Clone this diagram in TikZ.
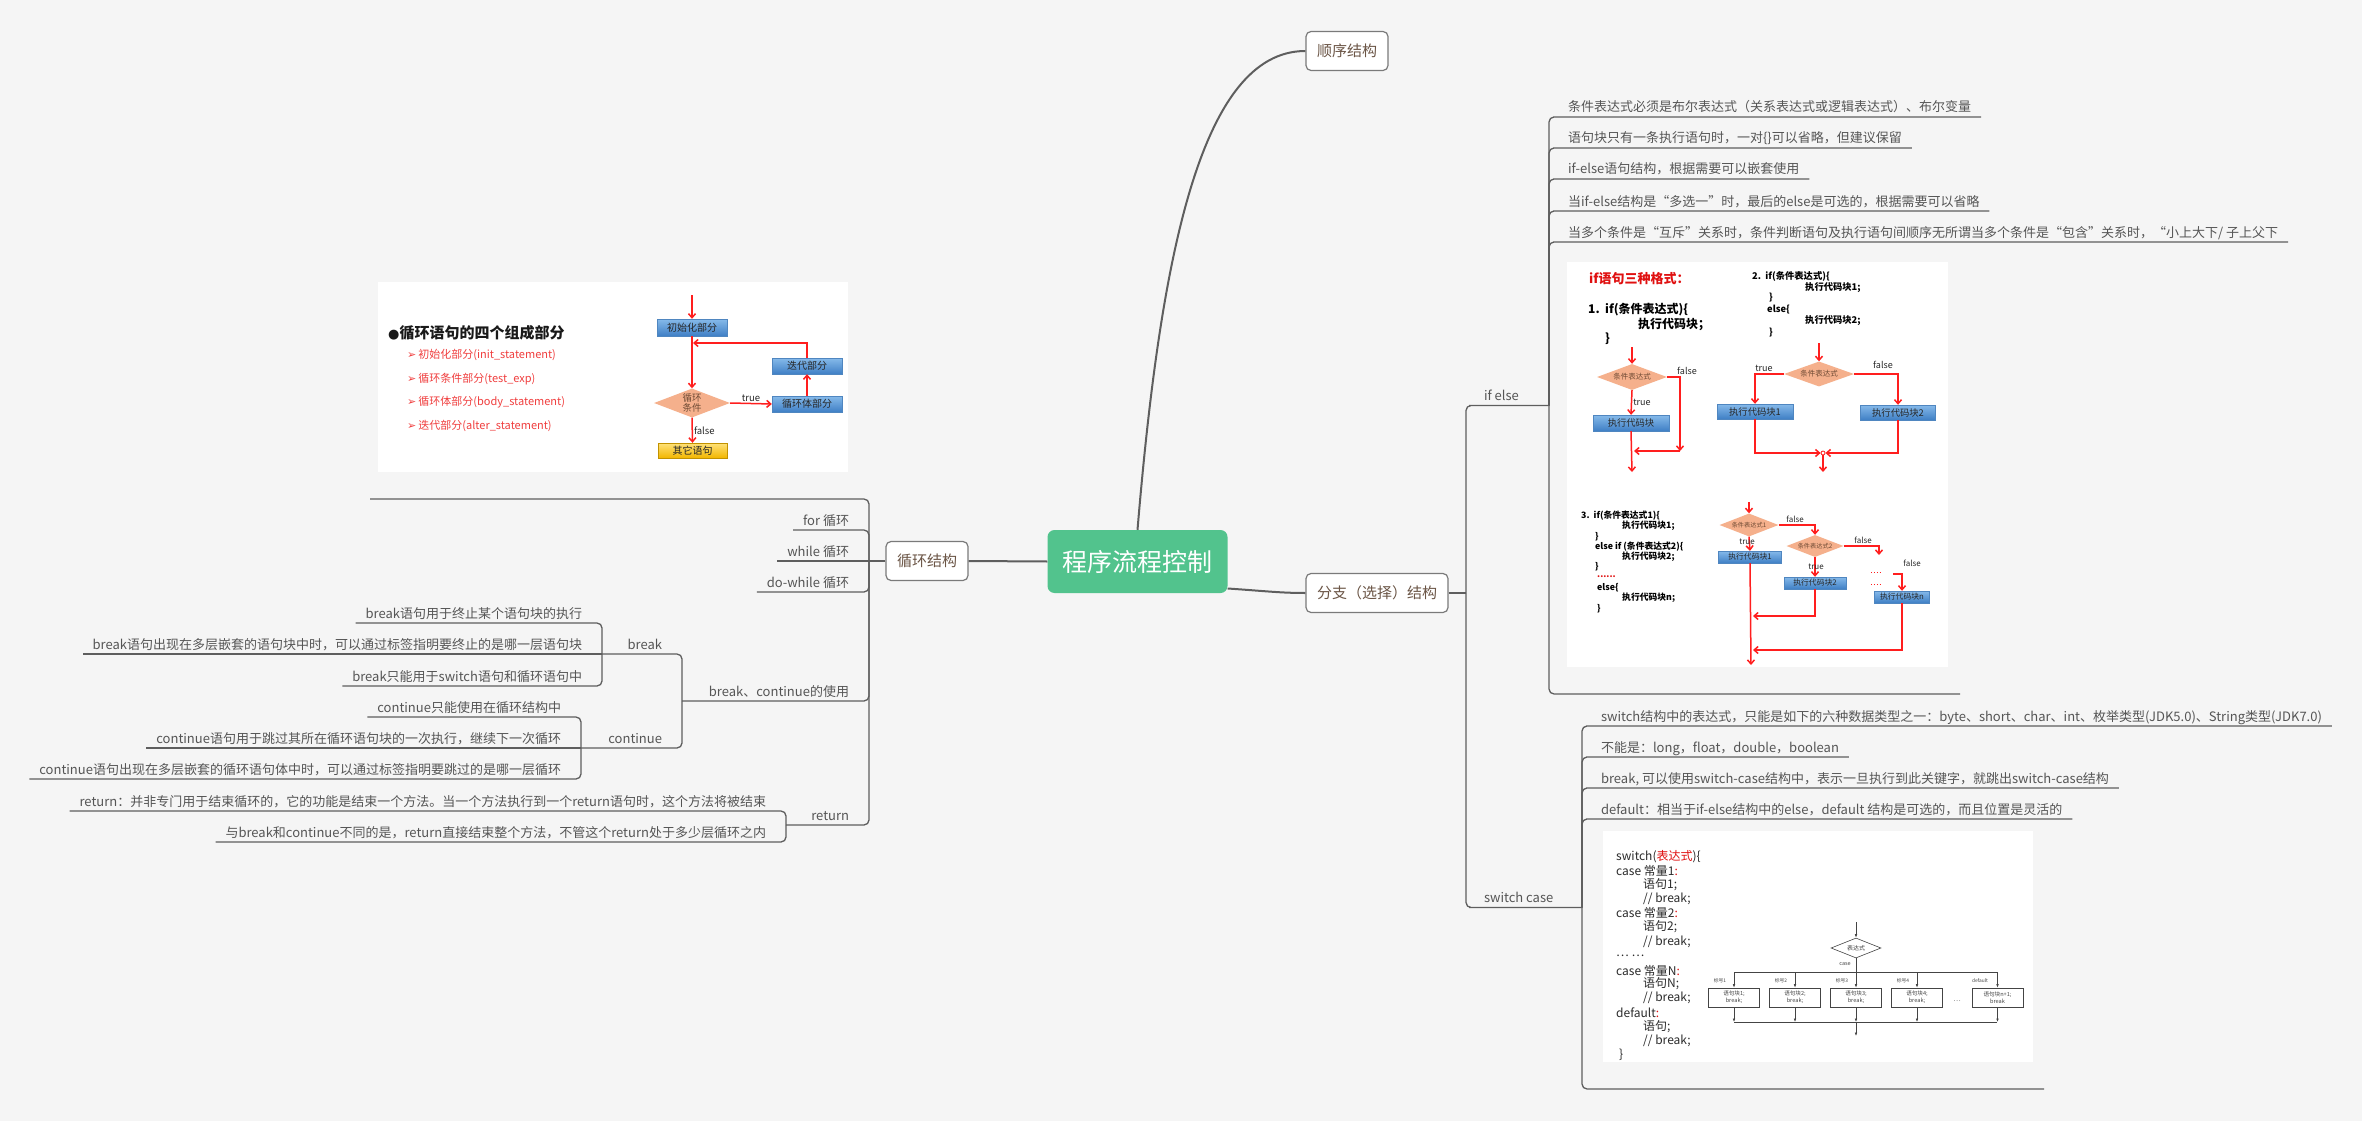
\documentclass[tikz,border=0pt]{standalone}
\usepackage{fontspec}
\setmainfont{Noto Sans CJK SC}
\newfontfamily\dejavu{DejaVu Sans}
\usetikzlibrary{shapes.geometric,arrows.meta,calc}

\newcommand\fsz[1]{\fontsize{#1}{#1}\selectfont}

\definecolor{bgC}{HTML}{F5F5F5}
\definecolor{lineC}{HTML}{5E5E5E}
\definecolor{leafC}{HTML}{555555}
\definecolor{topicC}{HTML}{6B5546}
\definecolor{topicB}{HTML}{7A7A7A}
\definecolor{rootC}{HTML}{52C38D}
\definecolor{arrR}{HTML}{FF1E1E}
\definecolor{blueT}{HTML}{86BAEA}
\definecolor{blueB}{HTML}{3F7FC5}
\definecolor{blueD}{HTML}{4F86C0}
\definecolor{salmonC}{HTML}{F5B08C}
\definecolor{yelT}{HTML}{FFE27A}
\definecolor{yelB}{HTML}{F2B600}
\definecolor{itemR}{HTML}{F03E3E}
\definecolor{codeR}{HTML}{E01010}
\definecolor{diaT}{HTML}{6E4A34}
\definecolor{codeC}{HTML}{2B2B2B}
\definecolor{flowC}{HTML}{444444}

\tikzset{
  ln/.style={draw=lineC, line width=1.3pt, rounded corners=5pt},
  trunk/.style={draw=lineC, line width=2pt},
  leafbase/.style={font=\fsz{13}, text=leafC, inner xsep=10pt, inner ysep=0pt,
    outer sep=0pt, text height=12pt, text depth=5pt},
  leafL/.style={leafbase, anchor=base east},
  leafR/.style={leafbase, anchor=base west},
  topic/.style={draw=topicB, fill=white, line width=1.2pt, rounded corners=5pt,
    font=\fsz{15}, text=topicC, inner xsep=11pt, inner ysep=0pt, minimum height=39pt},
  root/.style={fill=rootC, rounded corners=7pt, font=\fsz{25}, text=white,
    inner xsep=15pt, inner ysep=0pt, minimum height=63pt},
  picframe/.style={fill=white, inner sep=0pt},
  rarr/.style={draw=arrR, line width=1.5pt, -{Straight Barb[length=4pt,width=7pt]}},
  bluebox/.style={rectangle, top color=blueT, bottom color=blueB, draw=blueD,
    line width=0.4pt, inner sep=0pt, text=black!85},
  yelbox/.style={rectangle, top color=yelT, bottom color=yelB, draw=yelB!80!black,
    line width=0.4pt, inner sep=0pt, text=black!85},
  saldia/.style={diamond, fill=salmonC, inner sep=0pt, text=diaT},
  codeb/.style={anchor=west, inner sep=0pt, font=\bfseries, text=black},
  lbl/.style={inner sep=1pt, text=black!85},
  swcode/.style={anchor=west, inner sep=0pt, font=\fsz{12}, text=codeC},
  fl/.style={draw=flowC, line width=0.6pt},
  farr/.style={draw=flowC, line width=0.6pt, -{Latex[length=3.5pt,width=2.6pt]}},
  sbox/.style={draw=flowC, line width=0.6pt, fill=white, minimum width=51pt,
    minimum height=19pt, inner sep=0pt, align=center, font=\fontsize{5.6}{7}\selectfont, text=flowC},
  tiny/.style={inner sep=0pt, font=\fsz{4.8}, text=flowC},
  item/.style={anchor=west, inner sep=0pt, font=\fsz{11}, text=itemR}
}

\begin{document}
\begin{tikzpicture}[x=1pt,y=-1pt]
\useasboundingbox (0,0) rectangle (2362,1121);
\fill[bgC] (0,0) rectangle (2362,1121);

% ---------- main topics ----------
\node[root] (root) at (1137.5,561.5) {程序流程控制};
\node[topic] (seq) at (1347,51) {顺序结构};
\node[topic] (branch) at (1377,593) {分支（选择）结构};
\node[topic] (loop) at (927,561) {循环结构};

\draw[trunk] (root.west) -- (loop.east);
\draw[trunk] (root.north) .. controls (1160,260) and (1200,51) .. (seq.west);
\draw[trunk] ([yshift=-27pt]root.east) .. controls (1265,591) and (1280,593) .. (branch.west);

% ---------- loop structure: illustration ----------
\node[picframe, minimum width=470pt, minimum height=190pt] (loopimg) at (613,377) {};
\node[anchor=west, inner sep=0pt, font=\fsz{15}\bfseries, text=black!90] (lt) at (388,333)
  {{\dejavu\fsz{13}●}循环语句的四个组成部分};
\node[item] (li1) at (407,355) {{\dejavu\fsz{11}➢}\hspace{2pt}初始化部分(init\_statement)};
\node[item] (li2) at (407,379) {{\dejavu\fsz{11}➢}\hspace{2pt}循环条件部分(test\_exp)};
\node[item] (li3) at (407,402) {{\dejavu\fsz{11}➢}\hspace{2pt}循环体部分(body\_statement)};
\node[item] (li4) at (407,426) {{\dejavu\fsz{11}➢}\hspace{2pt}迭代部分(alter\_statement)};

\node[bluebox, minimum width=70pt, minimum height=17pt, font=\fsz{10}] (init) at (692,327.5) {初始化部分};
\node[bluebox, minimum width=70pt, minimum height=16pt, font=\fsz{10}] (iter) at (807,366) {迭代部分};
\node[bluebox, minimum width=70pt, minimum height=16pt, font=\fsz{10}] (body) at (807,404) {循环体部分};
\node[saldia, aspect=2.6, minimum width=76pt, minimum height=29pt, align=center,
  font=\fontsize{9.5}{10.5}\selectfont] (cond) at (692,403) {循环\\条件};
\node[yelbox, minimum width=69pt, minimum height=15pt, font=\fsz{10}] (other) at (692.5,450.5) {其它语句};
\coordinate (lin) at (692,295);
\coordinate (lback) at (693,343);
\draw[rarr] (lin) -- (init.north);
\draw[rarr] (init.south) -- (cond.north);
\draw[rarr] (iter.north) |- (lback);
\draw[rarr] (cond.east) -- (body.west) node[lbl, midway, above, font=\fsz{9.5}] {true};
\draw[rarr] (body.north) -- (iter.south);
\draw[rarr] (cond.south) -- (other.north) node[lbl, midway, right, font=\fsz{9.5}] {false};

% ---------- loop structure: branches ----------
\coordinate (jLoop) at (869,561);
\draw[ln] (loop.west) -- (jLoop);
\coordinate (loopU) at (370,499);
\draw[ln] (jLoop) |- (loopU);

\node[leafL] (forL) at (859,525) {for 循环};
\node[leafL] (whileL) at (859,556) {while 循环};
\node[leafL] (dowL) at (859,587) {do-while 循环};
\node[leafL] (bcL) at (859,696) {break、continue的使用};
\node[leafL] (retL) at (859,820) {return};
\draw[ln] (jLoop) |- (forL.south east) -- (forL.south west);
\draw[ln] (jLoop) -- (whileL.south west);
\draw[ln] (jLoop) |- (dowL.south east) -- (dowL.south west);

\coordinate (jBC) at (682,701);
\coordinate (jRt) at (786,825);
\draw[ln] (jLoop) |- (bcL.south east) -- (bcL.south west) -- (jBC);
\draw[ln] (jLoop) |- (retL.south east) -- (retL.south west) -- (jRt);

% break
\coordinate (jBk) at (602,654);
\node[leafL] (bkL) at (672,649) {break};
\draw[ln] (jBC) |- (bkL.south east) -- (bkL.south west) -- (jBk);
\node[leafL] (bk1) at (592,618) {break语句用于终止某个语句块的执行};
\node[leafL] (bk2) at (592,649) {break语句出现在多层嵌套的语句块中时，可以通过标签指明要终止的是哪一层语句块};
\node[leafL] (bk3) at (592,681) {break只能用于switch语句和循环语句中};
\draw[ln] (jBk) |- (bk1.south east) -- (bk1.south west);
\draw[ln] (jBk) -- (bk2.south west);
\draw[ln] (jBk) |- (bk3.south east) -- (bk3.south west);

% continue
\coordinate (jCt) at (581,748);
\node[leafL] (ctL) at (672,743) {continue};
\draw[ln] (jBC) |- (ctL.south east) -- (ctL.south west) -- (jCt);
\node[leafL] (ct1) at (571,712) {continue只能使用在循环结构中};
\node[leafL] (ct2) at (571,743) {continue语句用于跳过其所在循环语句块的一次执行，继续下一次循环};
\node[leafL] (ct3) at (571,774) {continue语句出现在多层嵌套的循环语句体中时，可以通过标签指明要跳过的是哪一层循环};
\draw[ln] (jCt) |- (ct1.south east) -- (ct1.south west);
\draw[ln] (jCt) -- (ct2.south west);
\draw[ln] (jCt) |- (ct3.south east) -- (ct3.south west);

% return
\node[leafL] (rt1) at (776,806) {return：并非专门用于结束循环的，它的功能是结束一个方法。当一个方法执行到一个return语句时，这个方法将被结束};
\node[leafL] (rt2) at (776,837) {与break和continue不同的是，return直接结束整个方法，不管这个return处于多少层循环之内};
\draw[ln] (jRt) |- (rt1.south east) -- (rt1.south west);
\draw[ln] (jRt) |- (rt2.south east) -- (rt2.south west);

% ---------- branch structure ----------
\coordinate (jBr) at (1466,593);
\draw[ln] (branch.east) -- (jBr);
\node[leafR] (ifL) at (1474,400.5) {if else};
\node[leafR] (swL) at (1474,902.5) {switch case};
\coordinate (jIf) at (1549,405.5);
\coordinate (jSw) at (1582,907.5);
\draw[ln] (jBr) |- (ifL.south west) -- (ifL.south east) -- (jIf);
\draw[ln] (jBr) |- (swL.south west) -- (swL.south east) -- (jSw);

% if else notes
\node[leafR] (r1) at (1558,112) {条件表达式必须是布尔表达式（关系表达式或逻辑表达式）、布尔变量};
\node[leafR] (r2) at (1558,143) {语句块只有一条执行语句时，一对\{\}可以省略，但建议保留};
\node[leafR] (r3) at (1558,174) {if-else语句结构，根据需要可以嵌套使用};
\node[leafR] (r4) at (1558,206) {当if-else结构是“多选一”时，最后的else是可选的，根据需要可以省略};
\node[leafR] (r5) at (1558,237) {当多个条件是“互斥”关系时，条件判断语句及执行语句间顺序无所谓当多个条件是“包含”关系时，“小上大下/ 子上父下};
\foreach \n in {r1,r2,r3,r4,r5} {\draw[ln] (jIf) |- (\n.south west) -- (\n.south east);}
\node[picframe, minimum width=381pt, minimum height=405pt] (ifimg) at (1757.5,464.5) {};
\coordinate (ifU) at (1960,694);
\draw[ln] (jIf) |- (ifU);

% if else illustration: code
\node[codeb, font=\fsz{13}\bfseries, text=codeR] (ift) at (1589,279) {if语句三种格式：};
\node[codeb, font=\fsz{12}\bfseries] (c1a) at (1588,310) {1.\ \ if(条件表达式)\{};
\node[codeb, font=\fsz{12}\bfseries] (c1b) at (1638,324) {执行代码块；};
\node[codeb, font=\fsz{12}\bfseries] (c1c) at (1605,339) {\}};
\node[codeb, font=\fsz{9.3}\bfseries] (c2a) at (1752,276) {2.\ \ if(条件表达式)\{};
\node[codeb, font=\fsz{9.3}\bfseries] (c2b) at (1805,288) {执行代码块1;};
\node[codeb, font=\fsz{9.3}\bfseries] (c2c) at (1769,298) {\}};
\node[codeb, font=\fsz{9.3}\bfseries] (c2d) at (1767,310) {else\{};
\node[codeb, font=\fsz{9.3}\bfseries] (c2e) at (1805,321) {执行代码块2;};
\node[codeb, font=\fsz{9.3}\bfseries] (c2f) at (1769,333) {\}};
\node[codeb, font=\fsz{8.8}\bfseries] (c3a) at (1581,516) {3.\ \ if(条件表达式1)\{};
\node[codeb, font=\fsz{8.8}\bfseries] (c3b) at (1622,526) {执行代码块1;};
\node[codeb, font=\fsz{8.8}\bfseries] (c3c) at (1595,537) {\}};
\node[codeb, font=\fsz{8.8}\bfseries] (c3d) at (1595,547) {else if (条件表达式2)\{};
\node[codeb, font=\fsz{8.8}\bfseries] (c3e) at (1622,557) {执行代码块2;};
\node[codeb, font=\fsz{8.8}\bfseries] (c3f) at (1595,567) {\}};
\node[codeb, font=\fsz{8.8}\bfseries, text=codeR] (c3g) at (1597,577) {......};
\node[codeb, font=\fsz{8.8}\bfseries] (c3h) at (1597,588) {else\{};
\node[codeb, font=\fsz{8.8}\bfseries] (c3i) at (1622,598) {执行代码块n;};
\node[codeb, font=\fsz{8.8}\bfseries] (c3j) at (1597,609) {\}};

% if else illustration: format 1
\node[saldia, aspect=2.7, minimum width=70pt, minimum height=26pt, font=\fsz{7.5}] (d1) at (1632,377) {条件表达式};
\node[bluebox, minimum width=76pt, minimum height=16pt, font=\fsz{9.3}] (b1) at (1631,423) {执行代码块};
\coordinate (a1) at (1632,347);
\coordinate (f1r) at (1680,451);
\coordinate (f1m) at (1634,451);
\coordinate (f1o) at (1632,472);
\draw[rarr] (a1) -- (d1.north);
\draw[rarr] (d1.south) -- (b1.north) node[lbl, midway, right, font=\fsz{9}] {true};
\draw[rarr] (d1.east) -| (f1r);
\node[lbl, font=\fsz{9}] (fl1) at (1687,371) {false};
\draw[rarr] (f1r) -- (f1m);
\draw[rarr] (b1.south) -- (f1o);

% if else illustration: format 2
\node[saldia, aspect=2.7, minimum width=70pt, minimum height=25pt, font=\fsz{7.5}] (d2) at (1819,374) {条件表达式};
\node[bluebox, minimum width=76pt, minimum height=15pt, font=\fsz{9.3}] (b21) at (1755,411.5) {执行代码块1};
\node[bluebox, minimum width=75pt, minimum height=15pt, font=\fsz{9.3}] (b22) at (1898,412.5) {执行代码块2};
\node[circle, draw=arrR, fill=white, line width=0.8pt, inner sep=0pt, minimum size=4pt] (jn) at (1823,453) {};
\coordinate (a2) at (1819,343);
\coordinate (o2) at (1823,472);
\draw[rarr] (a2) -- (d2.north);
\draw[rarr] (d2.west) -| (b21.north);
\draw[rarr] (d2.east) -| (b22.north);
\node[lbl, font=\fsz{9}] (tl2) at (1764,368) {true};
\node[lbl, font=\fsz{9}] (fl2) at (1883,365) {false};
\draw[rarr] (b21.south) |- (jn.west);
\draw[rarr] (b22.south) |- (jn.east);
\draw[rarr] (jn.south) -- (o2);

% if else illustration: format 3
\node[saldia, aspect=2.6, minimum width=59pt, minimum height=23pt, font=\fsz{6.2}] (d31) at (1749,525) {条件表达式1};
\node[saldia, aspect=2.6, minimum width=57pt, minimum height=22pt, font=\fsz{6.2}] (d32) at (1815,546) {条件表达式2};
\node[bluebox, minimum width=63pt, minimum height=12pt, font=\fsz{7.8}] (b31) at (1750,557) {执行代码块1};
\node[bluebox, minimum width=62pt, minimum height=12pt, font=\fsz{7.8}] (b32) at (1815,583) {执行代码块2};
\node[bluebox, minimum width=55pt, minimum height=12pt, font=\fsz{7.8}] (b3n) at (1902,597) {执行代码块n};
\coordinate (a3) at (1749,502);
\coordinate (c3r) at (1879,555);
\coordinate (c4) at (1893,574);
\coordinate (o3) at (1751,665);
\coordinate (m1) at (1753,616);
\coordinate (m2) at (1753,650);
\draw[rarr] (a3) -- (d31.north);
\draw[rarr] (d31.south) -- (b31.north);
\draw[rarr] (d31.east) -| (d32.north);
\draw[rarr] (d32.east) -| (c3r);
\draw[rarr] (d32.south) -- (b32.north);
\draw[rarr] (c4) -| (b3n.north);
\draw[rarr] (b31.south) -- (o3);
\draw[rarr] (b32.south) |- (m1);
\draw[rarr] (b3n.south) |- (m2);
\node[lbl, font=\fsz{8}] (tl31) at (1747,542) {true};
\node[lbl, font=\fsz{8}] (fl31) at (1795,519) {false};
\node[lbl, font=\fsz{8}] (fl32) at (1863,540) {false};
\node[lbl, font=\fsz{8}] (tl32) at (1816,567) {true};
\node[lbl, font=\fsz{8}] (fl33) at (1912,563) {false};
\draw[draw=arrR, line width=0.9pt, dotted] (1871,572) -- (1881,572);
\draw[draw=arrR, line width=0.9pt, dotted] (1871,584) -- (1881,584);

% switch notes
\node[leafR] (s1) at (1591,721) {switch结构中的表达式，只能是如下的六种数据类型之一：byte、short、char、int、枚举类型(JDK5.0)、String类型(JDK7.0)};
\node[leafR] (s2) at (1591,752) {不能是：long，float，double，boolean};
\node[leafR] (s3) at (1591,783) {break, 可以使用switch-case结构中，表示一旦执行到此关键字，就跳出switch-case结构};
\node[leafR] (s4) at (1591,814) {default：相当于if-else结构中的else，default 结构是可选的，而且位置是灵活的};
\foreach \n in {s1,s2,s3,s4} {\draw[ln] (jSw) |- (\n.south west) -- (\n.south east);}
\node[picframe, minimum width=430pt, minimum height=231pt] (swimg) at (1818,946.5) {};
\coordinate (swU) at (2044,1089);
\draw[ln] (jSw) |- (swU);

% switch illustration: code
\node[swcode] (w1) at (1616,857) {switch(\textcolor{codeR}{表达式})\{};
\node[swcode] (w2) at (1616,871) {case 常量1\textcolor{codeR}{:}};
\node[swcode] (w3) at (1643,885) {语句1;};
\node[swcode] (w4) at (1643,899) {// break;};
\node[swcode] (w5) at (1616,913) {case 常量2\textcolor{codeR}{:}};
\node[swcode] (w6) at (1643,927) {语句2;};
\node[swcode] (w7) at (1643,942) {// break;};
\node[swcode] (w8) at (1616,956) {… …};
\node[swcode] (w9) at (1616,971) {case 常量N\textcolor{codeR}{:}};
\node[swcode] (w10) at (1643,984) {语句N;};
\node[swcode] (w11) at (1643,998) {// break;};
\node[swcode] (w12) at (1616,1013) {default\textcolor{codeR}{:}};
\node[swcode] (w13) at (1643,1027) {语句;};
\node[swcode] (w14) at (1643,1041) {// break;};
\node[swcode] (w15) at (1619,1055) {\}};

% switch illustration: flow chart
\node[diamond, draw=flowC, line width=0.6pt, fill=white, aspect=2.5, minimum width=50pt,
  minimum height=20pt, inner sep=0pt, font=\fsz{6}, text=flowC] (sd) at (1856,948) {表达式};
\coordinate (s0) at (1856,922);
\coordinate (sb) at (1856,972);
\coordinate (sbl) at (1734,972);
\coordinate (sbr) at (1997,972);
\coordinate (sbot) at (1856,1022);
\coordinate (sbotl) at (1734,1022);
\coordinate (sbotr) at (1997,1022);
\coordinate (send) at (1856,1036);
\draw[farr] (s0) -- (sd.north);
\draw[fl] (sd.south) -- (sb);
\node[tiny, font=\fsz{5.5}] (scase) at (1845,964) {case};
\draw[fl] (sbl) -- (sbr);
\node[sbox] (sw1) at (1734,997.5) {语句块1;\\break;};
\node[sbox] (sw2) at (1795,997.5) {语句块2;\\break;};
\node[sbox] (sw3) at (1856,997.5) {语句块3;\\break;};
\node[sbox] (sw4) at (1917,997.5) {语句块4;\\break;};
\node[sbox] (sw5) at (1997.5,997.5) {语句块n+1;\\break};
\node[tiny] (sl1) at (1720,981) {标号1};
\node[tiny] (sl2) at (1781,981) {标号2};
\node[tiny] (sl3) at (1842,981) {标号3};
\node[tiny] (sl4) at (1903,981) {标号4};
\node[tiny] (sl5) at (1980,981) {default};
\node[tiny, font=\fsz{7}] (sdots) at (1957,1001) {…};
\foreach \b in {sw1,sw2,sw3,sw4,sw5} {
  \draw[farr] (\b.north |- sb) -- (\b.north);
  \draw[farr] (\b.south) -- (\b.south |- sbot);
}
\draw[fl] (sbotl) -- (sbotr);
\draw[farr] (sbot) -- (send);

\end{tikzpicture}
\end{document}
